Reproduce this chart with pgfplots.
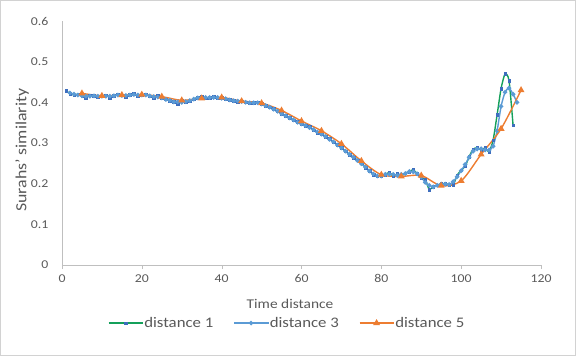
\documentclass[border=0pt]{standalone}
\usepackage{pgfplots}
\pgfplotsset{compat=1.18}
\usepackage{fontspec}
\setmainfont{Carlito}[FakeStretch=1.15]
\definecolor{dgreen}{RGB}{20,160,90}
\definecolor{dmark}{RGB}{62,110,190}
\definecolor{dblue}{RGB}{91,155,213}
\definecolor{dorange}{RGB}{237,125,49}
\definecolor{txtgray}{RGB}{89,89,89}
\definecolor{axgray}{RGB}{191,191,191}
\begin{document}
\begin{tikzpicture}
\useasboundingbox (-62pt,-91pt) rectangle (514pt,265pt);
\draw[axgray!70] (-61.5pt,-90.5pt) rectangle (513.5pt,264.5pt);
\begin{axis}[
  at={(0pt,0pt)}, anchor=origin,
  scale only axis, width=479pt, height=244pt,
  xmin=0, xmax=120, ymin=0, ymax=0.6,
  xtick={0,20,...,120}, ytick={0,0.1,...,0.6},
  yticklabels={0,0.1,0.2,0.3,0.4,0.5,0.6},
  axis x line=bottom, axis y line=left,
  axis line style={axgray,-},
  x tick style={axgray}, major tick length=4pt,
  xtick pos=bottom, tick align=outside,
  y tick style={draw=none},
  /pgf/number format/assume math mode=true,
  tick label style={font=\fontsize{12}{14}\selectfont, text=txtgray},
  xticklabel style={yshift=-2pt},
  yticklabel style={xshift=-6pt},
  xlabel={Time distance},
  xlabel style={font=\fontsize{13.4}{15}\selectfont, text=txtgray, at={(axis description cs:0.476,-0.16)}, anchor=center},
  ylabel={Surahs' similarity},
  ylabel style={font=\fontsize{15.5}{17}\selectfont, text=txtgray, at={(axis description cs:-0.083,0.47)}, anchor=center},
  legend columns=3,
  legend style={draw=none, fill=none, font=\fontsize{14.6}{16}\selectfont, text=txtgray, at={(axis description cs:0.47,-0.238)}, anchor=center, /tikz/every even column/.append style={column sep=18pt}, /tikz/every odd column/.append style={column sep=-1pt}},
  legend image code/.code={\draw[mark repeat=2,mark phase=2] plot coordinates {(0pt,0pt) (17pt,0pt) (34pt,0pt)};},
]
\addplot[dgreen, line width=1.4pt, smooth, tension=0.4, mark=square*, mark size=1.3pt, mark options={dmark, draw=dmark, fill=dmark, line width=0.3pt}] coordinates {
(1,0.428)(2,0.422)(3,0.418)(4,0.420)(5,0.415)(6,0.412)(7,0.418)(8,0.416)(9,0.413)(10,0.415)
(11,0.418)(12,0.412)(13,0.416)(14,0.420)(15,0.418)(16,0.414)(17,0.419)(18,0.421)(19,0.416)(20,0.418)
(21,0.420)(22,0.415)(23,0.412)(24,0.416)(25,0.410)(26,0.408)(27,0.404)(28,0.402)(29,0.396)(30,0.404)
(31,0.400)(32,0.403)(33,0.408)(34,0.412)(35,0.414)(36,0.410)(37,0.412)(38,0.414)(39,0.410)(40,0.412)
(41,0.408)(42,0.406)(43,0.404)(44,0.402)(45,0.403)(46,0.400)(47,0.398)(48,0.399)(49,0.400)(50,0.397)
(51,0.392)(52,0.388)(53,0.384)(54,0.378)(55,0.372)(56,0.367)(57,0.362)(58,0.356)(59,0.352)(60,0.346)
(61,0.343)(62,0.340)(63,0.332)(64,0.326)(65,0.323)(66,0.316)(67,0.310)(68,0.302)(69,0.296)(70,0.288)
(71,0.280)(72,0.272)(73,0.264)(74,0.258)(75,0.250)(76,0.240)(77,0.232)(78,0.222)(79,0.218)(80,0.218)
(81,0.222)(82,0.228)(83,0.218)(84,0.224)(85,0.219)(86,0.226)(87,0.230)(88,0.234)(89,0.224)(90,0.214)
(91,0.210)(92,0.186)(93,0.193)(94,0.196)(95,0.200)(96,0.200)(97,0.198)(98,0.197)(99,0.221)(100,0.233)
(101,0.243)(102,0.266)(103,0.285)(104,0.288)(105,0.283)(106,0.288)(107,0.279)(108,0.307)(109,0.369)(110,0.434)
(111,0.470)(112,0.453)(113,0.344)
};
\addlegendentry{distance 1}
\addplot[dblue, line width=1.4pt, smooth, tension=0.4, mark=*, mark size=1.5pt, mark options={dblue, fill=dblue}] coordinates {
(2,0.423)(3,0.420)(4,0.418)(5,0.416)(6,0.415)(7,0.415)(8,0.416)(9,0.415)(10,0.415)
(11,0.415)(12,0.415)(13,0.416)(14,0.418)(15,0.417)(16,0.417)(17,0.418)(18,0.419)(19,0.418)(20,0.418)
(21,0.418)(22,0.416)(23,0.414)(24,0.413)(25,0.411)(26,0.407)(27,0.405)(28,0.401)(29,0.401)(30,0.400)
(31,0.402)(32,0.404)(33,0.408)(34,0.411)(35,0.412)(36,0.412)(37,0.412)(38,0.412)(39,0.412)(40,0.410)
(41,0.409)(42,0.406)(43,0.404)(44,0.403)(45,0.402)(46,0.400)(47,0.399)(48,0.399)(49,0.399)(50,0.396)
(51,0.392)(52,0.388)(53,0.383)(54,0.378)(55,0.372)(56,0.367)(57,0.362)(58,0.357)(59,0.351)(60,0.347)
(61,0.343)(62,0.338)(63,0.333)(64,0.327)(65,0.322)(66,0.316)(67,0.309)(68,0.303)(69,0.295)(70,0.288)
(71,0.280)(72,0.272)(73,0.265)(74,0.257)(75,0.249)(76,0.241)(77,0.231)(78,0.224)(79,0.219)(80,0.219)
(81,0.223)(82,0.223)(83,0.223)(84,0.220)(85,0.223)(86,0.225)(87,0.230)(88,0.229)(89,0.224)(90,0.216)
(91,0.203)(92,0.196)(93,0.192)(94,0.196)(95,0.199)(96,0.199)(97,0.198)(98,0.205)(99,0.217)(100,0.232)
(101,0.247)(102,0.265)(103,0.280)(104,0.285)(105,0.286)(106,0.283)(107,0.283)(108,0.292)(109,0.330)(110,0.390)
(111,0.425)(112,0.435)(113,0.420)(114,0.400)
};
\addlegendentry{distance 3}
\addplot[dorange, line width=1.4pt, smooth, tension=0.5, mark=triangle*, mark size=2.6pt, mark options={dorange, fill=dorange}] coordinates {
(5,0.422)(10,0.416)(15,0.418)(20,0.419)(25,0.414)(30,0.405)(35,0.410)(40,0.412)(45,0.403)(50,0.398)
(55,0.380)(60,0.354)(65,0.330)(70,0.298)(75,0.256)(80,0.222)(85,0.218)(90,0.220)(95,0.195)(100,0.207)
(105,0.272)(110,0.335)(115,0.430)
};
\addlegendentry{distance 5}
\end{axis}
\end{tikzpicture}
\end{document}
